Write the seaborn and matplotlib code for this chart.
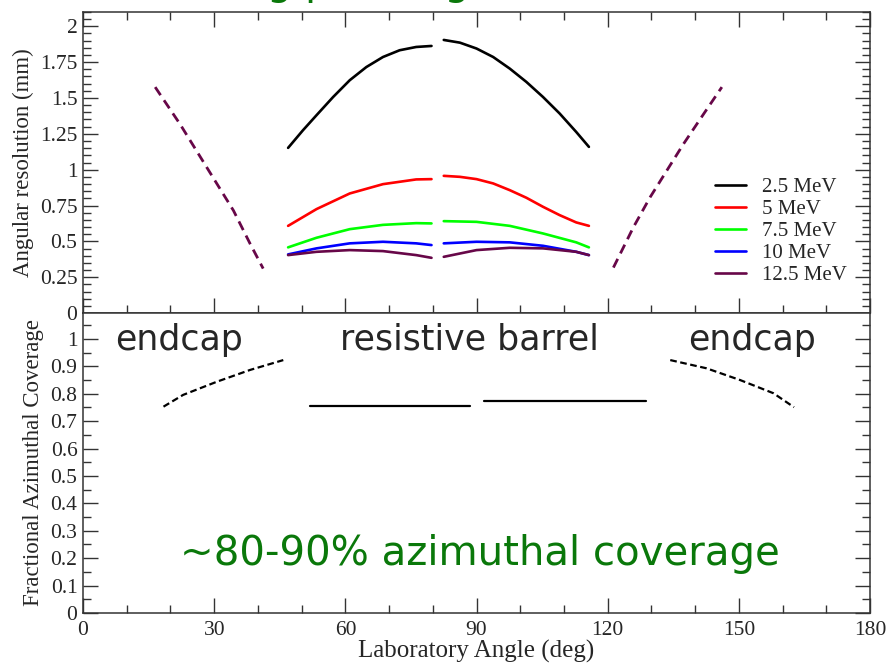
import pandas as pd
import seaborn as sns
import matplotlib.pyplot as plt
from matplotlib.ticker import MultipleLocator

energies = ["2.5 MeV", "5 MeV", "7.5 MeV", "10 MeV", "12.5 MeV"]
colors = ["#000000", "#ff0000", "#00ff00", "#0000ff", "#670748"]

# barrel resolution, left half (deg, mm)
ang_left_fine = [46.9, 50.3, 53.4, 57.2, 61.0, 64.8, 68.6, 72.4, 76.2, 79.7]
ang_left = [46.9, 53.4, 61.0, 68.6, 76.2, 79.7]
res_left = {
    "2.5 MeV": [1.152, 1.275, 1.38, 1.507, 1.624, 1.716, 1.786, 1.833, 1.856, 1.863],
    "5 MeV": [0.608, 0.725, 0.834, 0.899, 0.932, 0.934],
    "7.5 MeV": [0.458, 0.525, 0.585, 0.615, 0.627, 0.625],
    "10 MeV": [0.409, 0.451, 0.486, 0.497, 0.486, 0.474],
    "12.5 MeV": [0.404, 0.427, 0.439, 0.432, 0.404, 0.385],
}

# barrel resolution, right half
ang_right_fine = [82.5, 86.2, 90.0, 93.8, 97.6, 101.4, 105.2, 109.0, 112.8, 115.7]
ang_right = [82.5, 90.0, 97.6, 105.2, 112.8, 115.7]
res_right = {
    "2.5 MeV": [1.905, 1.886, 1.845, 1.786, 1.705, 1.612, 1.507, 1.392, 1.263, 1.159],
    "5 MeV": [0.957, 0.95, 0.934, 0.904, 0.857, 0.804, 0.741, 0.683, 0.632, 0.608],
    "7.5 MeV": [0.641, 0.636, 0.608, 0.555, 0.493, 0.458],
    "10 MeV": [0.486, 0.497, 0.493, 0.469, 0.427, 0.404],
    "12.5 MeV": [0.392, 0.439, 0.455, 0.451, 0.427, 0.404],
}

# endcap resolution (12.5 MeV, dashed)
endcap_ang_l = [16.5, 22.2, 28.3, 34.4, 38.2, 41.2]
endcap_res_l = [1.576, 1.317, 1.016, 0.715, 0.484, 0.31]
endcap_ang_r = [121.3, 125.9, 129.7, 137.3, 141.9, 146.1]
endcap_res_r = [0.317, 0.60, 0.808, 1.178, 1.387, 1.576]

# azimuthal coverage
cov_end_ang_l = [18.4, 22.9, 30.6, 38.2, 45.8]
cov_end_l = [0.753, 0.796, 0.844, 0.887, 0.923]
cov_end_ang_r = [134.3, 142.6, 150.3, 157.9, 162.6]
cov_end_r = [0.923, 0.893, 0.85, 0.802, 0.751]
cov_bar_ang_l = [51.9, 88.5]
cov_bar_l = [0.757, 0.757]
cov_bar_ang_r = [91.6, 128.7]
cov_bar_r = [0.775, 0.775]

sns.set_style("ticks")
plt.rcParams["font.family"] = ["Liberation Serif", "DejaVu Serif"]

fig = plt.figure(figsize=(8.89, 6.66), dpi=100)
ax1 = fig.add_axes([0.0934, 0.530, 0.8853, 0.452])
ax2 = fig.add_axes([0.0934, 0.0796, 0.8853, 0.4505])

# top panel: angular resolution
for e, c in zip(energies, colors):
    xl = ang_left_fine if len(res_left[e]) == len(ang_left_fine) else ang_left
    xr = ang_right_fine if len(res_right[e]) == len(ang_right_fine) else ang_right
    sns.lineplot(x=xl, y=res_left[e], color=c, lw=1.9, ax=ax1, label=e, sort=False)
    sns.lineplot(x=xr, y=res_right[e], color=c, lw=1.9, ax=ax1, sort=False)
for xs, ys in [(endcap_ang_l, endcap_res_l), (endcap_ang_r, endcap_res_r)]:
    sns.lineplot(x=xs, y=ys, color=colors[-1], lw=2.0, ax=ax1, sort=False)
    ax1.lines[-1].set_dashes((3.5, 2.2))

# bottom panel: coverage
for xs, ys, dash in [(cov_end_ang_l, cov_end_l, True), (cov_end_ang_r, cov_end_r, True),
                     (cov_bar_ang_l, cov_bar_l, False), (cov_bar_ang_r, cov_bar_r, False)]:
    sns.lineplot(x=xs, y=ys, color="black", lw=1.6, ax=ax2, sort=False)
    if dash:
        ax2.lines[-1].set_dashes((3, 1.6))

ax1.set_xlim(0, 180)
ax1.set_ylim(0, 2.1)
ax2.set_xlim(0, 180)
ax2.set_ylim(0, 1.095)

ax1.yaxis.set_minor_locator(MultipleLocator(0.05))
ax1.set_yticks([0, 0.25, 0.5, 0.75, 1, 1.25, 1.5, 1.75, 2])
ax1.set_yticklabels(["0", "0.25", "0.5", "0.75", "1", "1.25", "1.5", "1.75", "2"])
ax2.yaxis.set_minor_locator(MultipleLocator(0.05))
ax2.set_yticks([0, 0.1, 0.2, 0.3, 0.4, 0.5, 0.6, 0.7, 0.8, 0.9, 1])
ax2.set_yticklabels(["0", "0.1", "0.2", "0.3", "0.4", "0.5", "0.6", "0.7", "0.8", "0.9", "1"])
for ax in (ax1, ax2):
    ax.xaxis.set_major_locator(MultipleLocator(30))
    ax.xaxis.set_minor_locator(MultipleLocator(10))
    for s in ax.spines.values():
        s.set_color("#333333")
        s.set_linewidth(1.1)
        s.set_visible(True)

ax1.tick_params(which="both", direction="in", top=True, right=True, labelbottom=False,
                labelsize=15.5, color="#333333", pad=4)
ax2.tick_params(which="both", direction="in", top=False, right=True,
                labelsize=15.5, color="#333333", pad=4)
for ax in (ax1, ax2):
    ax.tick_params(which="major", length=11, width=1)
    ax.tick_params(which="minor", length=6, width=1)
ax2.tick_params(axis="x", pad=6)

ax1.set_ylabel("Angular resolution (mm)", fontsize=16.5)
ax1.yaxis.set_label_coords(-0.062, 0.5)
ax2.set_ylabel("Fractional Azimuthal Coverage", fontsize=16.5)
ax2.yaxis.set_label_coords(-0.049, 0.5)
ax2.set_xlabel("Laboratory Angle (deg)", fontsize=18, labelpad=0)
ax1.set_xlabel("")

ax1.legend(loc="upper left", bbox_to_anchor=(0.803, 0.45), frameon=False,
           fontsize=15, handlelength=1.5, handletextpad=0.75, labelspacing=0.12,
           borderpad=0, borderaxespad=0)

sans = ["DejaVu Sans"]
ax2.text(7.3, 0.96, "endcap", fontsize=25, family=sans, va="baseline")
ax2.text(58.8, 0.96, "resistive barrel", fontsize=25, family=sans, va="baseline")
ax2.text(138.4, 0.96, "endcap", fontsize=25, family=sans, va="baseline")
ax2.text(22.2, 0.175, "~80-90% azimuthal coverage", fontsize=29, family=sans,
         color="#0a780a", va="baseline")

# slide title, cut off by the top edge
fig.text(125 / 889, 1.009, "Tracking pointing resolution", fontsize=29, family=sans,
         color="#0a780a", va="baseline")

fig.savefig("out.png", dpi=100)
